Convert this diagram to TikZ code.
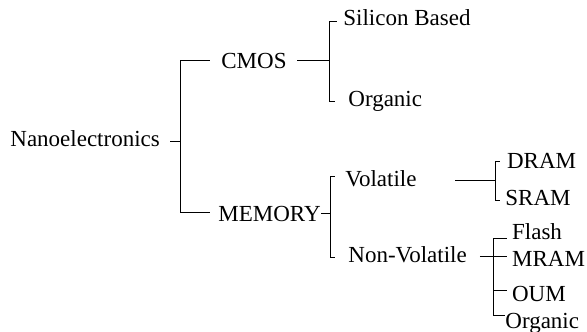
\documentclass[tikz,border=0pt]{standalone}
\usepackage{fontspec}
\setmainfont{Liberation Serif}
\usetikzlibrary{calc}
\tikzset{
  lbl/.style={font=\fontsize{11.5}{13}\selectfont, inner sep=0pt, anchor=base west},
  tree/.style={line width=0.5pt}
}
\begin{document}
\begin{tikzpicture}[x=0.5pt,y=-0.5pt]
    \useasboundingbox (0,0) rectangle (587,331);
    % labels
    \node[lbl] (nano)  at (10,146.5)   {Nanoelectronics};
    \node[lbl] (cmos)  at (221,68.3)   {CMOS};
    \node[lbl] (mem)   at (218,221.7)  {MEMORY};
    \node[lbl] (sil)   at (343,26)     {Silicon Based};
    \node[lbl] (orgA)  at (348,106.5)  {Organic};
    \node[lbl] (vol)   at (345,186.7)  {Volatile};
    \node[lbl] (nvol)  at (348,262)    {Non-Volatile};
    \node[lbl] (dram)  at (506.7,168.3) {DRAM};
    \node[lbl] (sram)  at (505,205)    {SRAM};
    \node[lbl] (flash) at (511.7,239)  {Flash};
    \node[lbl] (mram)  at (511.7,266.7) {MRAM};
    \node[lbl] (oum)   at (511.7,301)  {OUM};
    \node[lbl] (orgB)  at (505,328.3)  {Organic};
    % spines
    \coordinate (nanoS) at (180,141.7);
    \coordinate (cmosS) at (329,61);
    \coordinate (memS)  at (330,213.3);
    \coordinate (volS)  at (495,180);
    \coordinate (nvolS) at (493.3,256.7);
    % parent to spine
    \foreach \p/\s/\g in {nano/nanoS/10, cmos/cmosS/10, mem/memS/0, vol/volS/38.3} {
      \draw[tree] ($(\s -| \p.east)+(\g,0)$) -- (\s);
    }
    \draw[tree] ($(nvolS -| nvol.east)+(12.7,0)$) -- ($(nvolS -| mram.west)+(-5,0)$);
    % spine to children
    \foreach \c/\dx/\dy in {cmos/-11/0, mem/-8/-1.4} {
      \draw[tree] (nanoS) |- ($(\c.west)+(\dx,\dy)$);
    }
    \foreach \c/\dx/\dy in {sil/-6.3/3.5, orgA/-13/0.5} {
      \draw[tree] (cmosS) |- ($(\c.west)+(\dx,\dy)$);
    }
    \foreach \c/\dx/\dy in {vol/-10/-2.2, nvol/-13/3.8} {
      \draw[tree] (memS) |- ($(\c.west)+(\dx,\dy)$);
    }
    \foreach \c/\dx/\dy in {dram/-6.7/1, sram/-5/2.6} {
      \draw[tree] (volS) |- ($(\c.west)+(\dx,\dy)$);
    }
    \foreach \c/\dx/\dy in {flash/-5/7, oum/-5/-3.4, orgB/0/-7.5} {
      \draw[tree] (nvolS) |- ($(\c.west)+(\dx,\dy)$);
    }
\end{tikzpicture}
\end{document}
